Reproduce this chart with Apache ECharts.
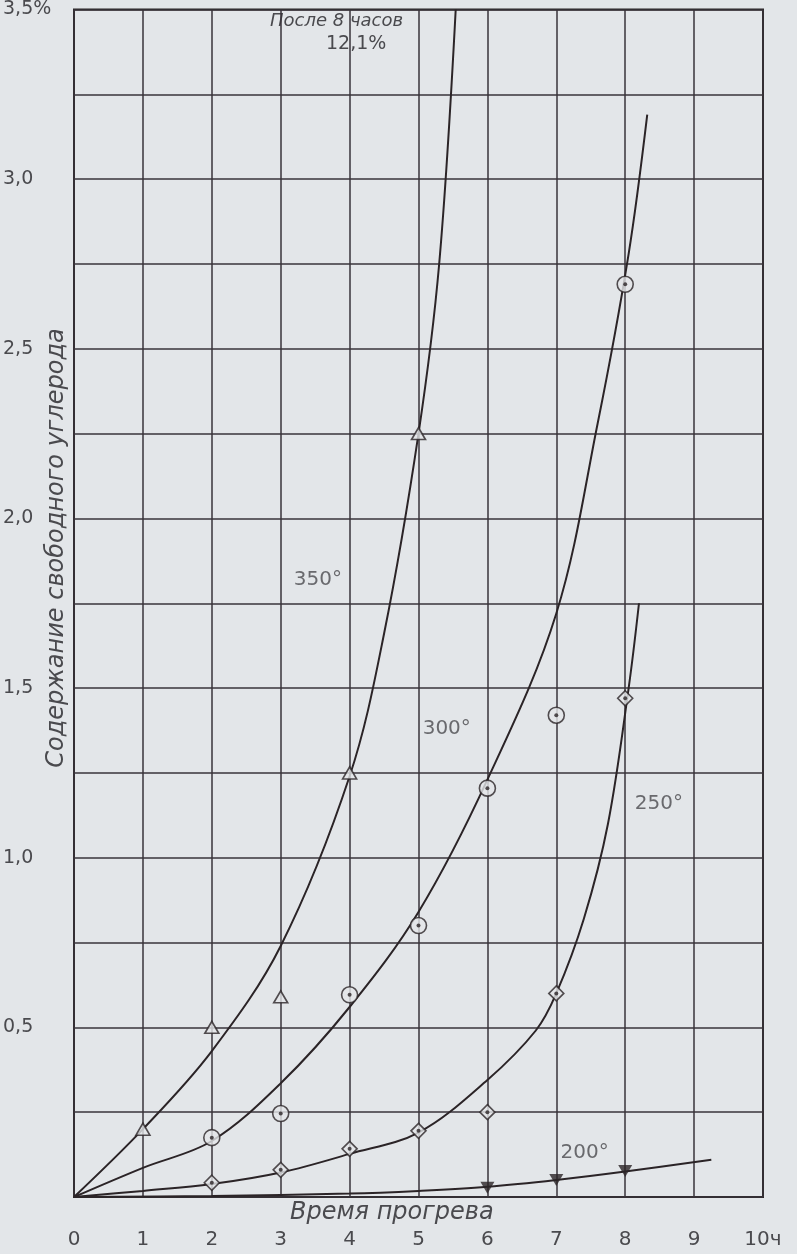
<!DOCTYPE html>
<html>
<head>
<meta charset="utf-8">
<script src="https://cdn.jsdelivr.net/npm/echarts@6/dist/echarts.min.js"></script>
<style>
html,body{margin:0;padding:0;background:#e3e6e9;}
#chart{width:797px;height:1254px;}
</style>
</head>
<body>
<div id="chart"></div>
<script>
// Tick values
const xTicks = [0,1,2,3,4,5,6,7,8,9,10];
const yLabelValues = [0.5,1.0,1.5,2.0,2.5,3.0,3.5];

// Smooth fitted curves
const curve350 = [[0,0],[1,0.2],[2,0.43],[3,0.74],[4,1.24],[4.5,1.66],[5,2.25],[5.3,2.75],[5.54,3.5]];
const curve300 = [[0,0],[1,0.086],[2,0.165],[3,0.335],[4,0.56],[5,0.84],[6,1.23],[7,1.72],[7.6,2.28],[8.05,2.78],[8.32,3.19]];
const curve250 = [[0,0],[1,0.018],[2,0.038],[3,0.072],[4,0.127],[5,0.19],[6,0.345],[6.7,0.49],[7,0.6],[7.4,0.82],[7.75,1.1],[8.05,1.5],[8.2,1.75]];
const curve200 = [[0,0],[2,0.003],[4,0.01],[5,0.018],[6,0.03],[7,0.05],[8,0.075],[9.25,0.11]];

// Measured points
const points350 = [[1,0.2],[2,0.5],[3,0.59],[4,1.25],[5,2.25]];
const points300 = [[2,0.175],[3,0.246],[4,0.596],[5,0.8],[6,1.205],[7,1.42],[8,2.69]];
const points250 = [[2,0.042],[3,0.08],[4,0.142],[5,0.195],[6,0.25],[7,0.6],[8,1.47]];
const points200 = [[6,0.027],[7,0.05],[8,0.077]];

// Curve labels
const curveNames = ['350°','300°','250°','200°'];

const BG = '#e3e6e9';
const INK = '#2b2427';
const TXT = '#4a4a4e';
const FONT = 'DejaVu Sans';

const chart = echarts.init(document.getElementById('chart'));

function lineSeries(data){
  return {type:'line', data:data, smooth:0.35, showSymbol:false, symbol:'none',
    lineStyle:{color:INK, width:2}, z:3, silent:true};
}

const option = {
  backgroundColor: BG,
  animation:false,
  grid:{left:74, right:34, top:9, bottom:57, show:true, borderColor:INK, borderWidth:2, backgroundColor:'transparent'},
  xAxis:{type:'value', min:0, max:10, interval:1,
    axisLine:{show:false}, axisTick:{show:false},
    splitLine:{show:true, lineStyle:{color:'#38333a', width:1.5}},
    axisLabel:{margin:33, fontSize:20, color:TXT, fontFamily:FONT,
      formatter:v => v===10 ? '10ч' : String(v)}},
  yAxis:{type:'value', min:0, max:3.5, interval:0.25,
    axisLine:{show:false}, axisTick:{show:false},
    splitLine:{show:true, lineStyle:{color:'#38333a', width:1.5}},
    axisLabel:{margin:71, align:'left', fontSize:19, color:TXT, fontFamily:FONT,
      formatter:v => {
        const hit = yLabelValues.find(t => Math.abs(t-v)<1e-6);
        if (hit===undefined) return '';
        let s = hit.toFixed(1).replace('.', ',');
        if (hit===3.5) s += '%';
        return s;
      }}},
  series:[
    lineSeries(curve350), lineSeries(curve300), lineSeries(curve250), lineSeries(curve200),
    {type:'scatter', data:points350, symbol:'triangle', symbolSize:[14,12], z:5,
      itemStyle:{color:BG, borderColor:INK, borderWidth:1.6}},
    {type:'scatter', data:points300, symbol:'circle', symbolSize:16, z:5,
      itemStyle:{color:BG, borderColor:INK, borderWidth:1.6}},
    {type:'scatter', data:points300, symbol:'circle', symbolSize:4, z:6,
      itemStyle:{color:INK}},
    {type:'scatter', data:points250, symbol:'diamond', symbolSize:[15,15], z:5,
      itemStyle:{color:BG, borderColor:INK, borderWidth:1.6}},
    {type:'scatter', data:points250, symbol:'circle', symbolSize:4, z:6,
      itemStyle:{color:INK}},
    {type:'scatter', data:points200, symbol:'triangle', symbolRotate:180, symbolSize:[14,12], z:5,
      itemStyle:{color:INK}},
    {type:'scatter', symbolSize:0, z:7, silent:true,
      data:[
        {name:curveNames[0], value:[3.54,1.82]},
        {name:curveNames[1], value:[5.41,1.38]},
        {name:curveNames[2], value:[8.49,1.16]},
        {name:curveNames[3], value:[7.41,0.13]}
      ],
      label:{show:true, position:'inside', formatter:p=>p.name, fontSize:20, color:TXT, fontFamily:FONT}}
  ],
  graphic:[
    {type:'text', left:270, top:12, style:{text:'После 8 часов', font:'italic 18px "DejaVu Sans"', fill:TXT}},
    {type:'text', left:326, top:35, style:{text:'12,1%', font:'19px "DejaVu Sans"', fill:TXT}},
    {type:'text', left:290, top:1201, style:{text:'Время прогрева', font:'italic 24px "DejaVu Sans"', fill:TXT}},
    {type:'text', x:57, y:548, rotation:Math.PI/2,
      style:{text:'Содержание свободного углерода', font:'italic 24px "DejaVu Sans"', fill:TXT, align:'center', verticalAlign:'middle'}}
  ]
};
chart.setOption(option);
</script>
</body>
</html>
